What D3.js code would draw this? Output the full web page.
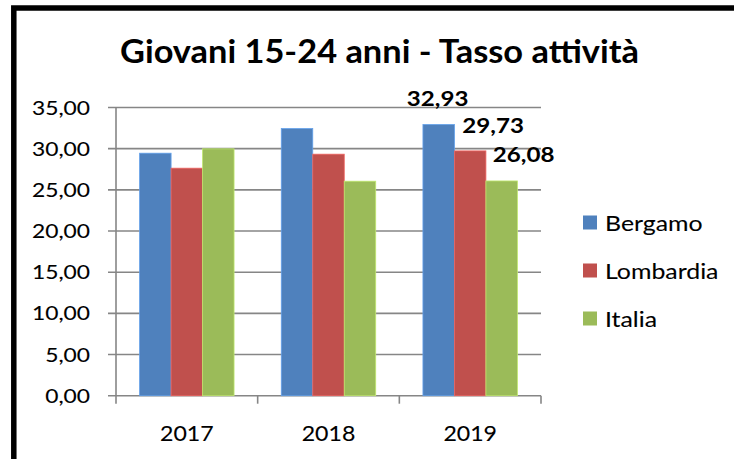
<!DOCTYPE html>
<html>
<head>
<meta charset="utf-8">
<script src="https://cdn.jsdelivr.net/npm/d3@7"></script>
<style>
    body { margin: 0; background: #fff; }
    svg { display: block; }
    text { font-family: Lato, "Open Sans", sans-serif; fill: #000; }
    text.reg { stroke: #000; stroke-width: 0.1; }
</style>
</head>
<body>
<div id="chart"></div>
<script>
// dati del grafico
let years = ["2017", "2018", "2019"];
let seriesNames = ["Bergamo", "Lombardia", "Italia"];
let bergamo = [29.45, 32.44, 32.93];
let lombardia = [27.63, 29.33, 29.73];
let italia = [29.98, 26.05, 26.08];
let yTicks = [0, 5, 10, 15, 20, 25, 30, 35];
let colors = ["#4F81BD", "#C0504D", "#9BBB59"];

let W = 734, H = 459;
let fmt = v => d3.format(".2f")(v).replace(".", ",");

let svg = d3.select("#chart").append("svg")
    .attr("width", W)
    .attr("height", H);

// bordo
svg.append("rect")
    .attr("x", 13.8).attr("y", 8)
    .attr("width", 900).attr("height", 700)
    .attr("fill", "#fff")
    .attr("stroke", "#000")
    .attr("stroke-width", 5.5);

let x = d3.scaleBand().domain(years).range([116, 541]);
let xs = d3.scaleBand().domain(seriesNames).range([0, x.bandwidth()])
    .paddingInner(0).paddingOuter(0.75);
let y = d3.scaleLinear().domain([0, 35]).range([395.7, 107.5]);

// testo allargato in orizzontale
let stretched = function(sel, px, py, sx) {
    return sel.append("g")
        .attr("transform", "translate(" + px + "," + py + ") scale(" + sx + ",1)")
        .append("text");
}

// griglia + tick asse y
let grid = svg.append("g");
yTicks.forEach(t => {
    grid.append("line")
        .attr("x1", 108).attr("x2", 541)
        .attr("y1", y(t)).attr("y2", y(t))
        .attr("stroke", "#868686").attr("stroke-width", 1.6);
    stretched(grid, 90, y(t) + 7, 1.2)
        .attr("class", "reg")
        .attr("text-anchor", "end")
        .attr("font-size", 19)
        .text(fmt(t));
});

// assi
svg.append("line")
    .attr("x1", 116).attr("x2", 116)
    .attr("y1", y(35)).attr("y2", y(0))
    .attr("stroke", "#868686").attr("stroke-width", 1.6);
let xt = x.domain().map(d => x(d)).concat([x.range()[1]]);
xt.forEach(p => {
    svg.append("line")
        .attr("x1", p).attr("x2", p)
        .attr("y1", y(0)).attr("y2", y(0) + 8)
        .attr("stroke", "#868686").attr("stroke-width", 1.6);
});
years.forEach(d => {
    stretched(svg, x(d) + x.bandwidth() / 2, 441, 1.1)
        .attr("class", "reg")
        .attr("text-anchor", "middle")
        .attr("font-size", 21)
        .text(d);
});

// barre
let series = [bergamo, lombardia, italia];
series.forEach((vals, i) => {
    svg.append("g").selectAll("rect")
        .data(vals)
        .join("rect")
        .attr("x", (v, j) => x(years[j]) + xs(seriesNames[i]))
        .attr("y", v => y(v))
        .attr("width", xs.bandwidth())
        .attr("height", v => y(0) - y(v))
        .attr("fill", colors[i])
        .attr("stroke", d3.color(colors[i]).brighter(0.6))
        .attr("stroke-width", 0.8);
});

// etichette 2019
let lblDx = [-1, 23, 22], lblDy = [19, 17.5, 18.5];
series.forEach((vals, i) => {
    let j = years.length - 1;
    let v = vals[j];
    stretched(svg, x(years[j]) + xs(seriesNames[i]) + xs.bandwidth() / 2 + lblDx[i], y(v) - lblDy[i], 1.15)
        .attr("text-anchor", "middle")
        .attr("font-size", 21)
        .attr("font-weight", "bold")
        .text(fmt(v));
});

// titolo
svg.append("text")
    .attr("x", 120).attr("y", 63)
    .attr("font-size", 32)
    .attr("font-weight", "bold")
    .attr("textLength", 519)
    .attr("lengthAdjust", "spacingAndGlyphs")
    .text("Giovani 15-24 anni - Tasso attività");

// legenda
let leg = svg.append("g");
seriesNames.forEach((n, i) => {
    let cy = 222.5 + i * 48;
    leg.append("rect")
        .attr("x", 583).attr("y", cy - 7)
        .attr("width", 14).attr("height", 14)
        .attr("fill", colors[i]);
    stretched(leg, 605, cy + 8, 1.13)
        .attr("class", "reg")
        .attr("font-size", 22)
        .text(n);
});
</script>
</body>
</html>
